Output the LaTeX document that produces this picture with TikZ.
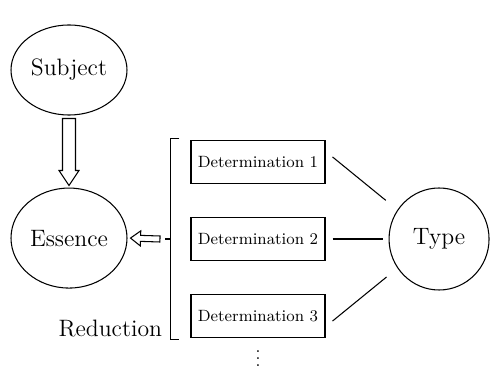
\documentclass[tikz,border=0pt]{standalone}
\usepackage{amsmath}
\usepackage{tikz}
\usetikzlibrary{
  positioning,
  calc,
  shapes.geometric}
\tikzset{every picture/.style={line width=0.6pt},
         bigfont/.style={font=\fontsize{13.5}{16}\selectfont},
         idea/.style={ellipse,draw,inner sep=0pt,bigfont},
         detbox/.style={rectangle,draw,minimum width=2.68cm,minimum height=0.86cm,
                        inner sep=0pt,font=\fontsize{9.3}{11}\selectfont}
        }
% hollow arrow: start, end, half shaft, half head, head length
\newcommand*\hollowarrow[5]{
  \coordinate (ha) at ($(#2)!#5!(#1)$);
  \draw ($(#1)!#3!90:(#2)$) -- ($(ha)!#3!90:(#2)$) -- ($(ha)!#4!90:(#2)$) -- (#2)
     -- ($(ha)!#4!-90:(#2)$) -- ($(ha)!#3!-90:(#2)$) -- ($(#1)!#3!-90:(#2)$) -- cycle;}

\begin{document}
\begin{tikzpicture}
\useasboundingbox (0,0) rectangle (9.8,-7.48);
\node[idea, minimum width=2.32cm, minimum height=1.8cm] (subject) at (1.38,-1.40){Subject};
\node[idea, minimum width=2.32cm, minimum height=2cm, below = 1.44cm of subject](essence){Essence};
\node[detbox] (det2) at (5.16,-4.78){Determination 2};
\node[detbox, above = 0.65cm of det2](det1){Determination 1};
\node[detbox, below = 0.66cm of det2](det3){Determination 3};
\node[idea, minimum width=2cm, minimum height=2.04cm, right = 1.26cm of det2](type){Type};
\node[below = -0.08cm of det3](dots){$\vdots$};
% the bracket round the determinations
\coordinate (btop) at ([xshift=-0.22cm, yshift=0.04cm]det1.north west);
\coordinate (bbot) at ([xshift=-0.22cm, yshift=-0.03cm]det3.south west);
\coordinate (bmid) at ([xshift=-0.39cm]det2.west);
\coordinate (tick) at ([xshift=-0.12cm]bmid);
\draw (btop) -- ++(-0.17,0) |- (bbot);
\draw (bmid) -- (tick);
\node[bigfont, anchor=base east] (reduction) at ([xshift=-0.22cm, yshift=0.06cm]bbot){Reduction};
% arrows
\coordinate (subtail) at ([yshift=-0.06cm]subject.south);
\coordinate (esstop) at ([yshift=0.04cm]essence.north);
\hollowarrow{subtail}{esstop}{0.13cm}{0.2cm}{0.3cm}
\coordinate (redtail) at ([xshift=-0.1cm]tick);
\coordinate (essright) at ([xshift=0.06cm]essence.east);
\hollowarrow{redtail}{essright}{0.06cm}{0.15cm}{0.2cm}
% lines to the type
\draw[shorten >=0.3cm] ([xshift=0.14cm, yshift=0.11cm]det1.east) -- (type.145);
\draw[shorten <=0.14cm, shorten >=0.12cm] (det2.east) -- (type.west);
\draw[shorten >=0.28cm] ([xshift=0.14cm, yshift=-0.1cm]det3.east) -- (type.215);
\end{tikzpicture}
\end{document}
